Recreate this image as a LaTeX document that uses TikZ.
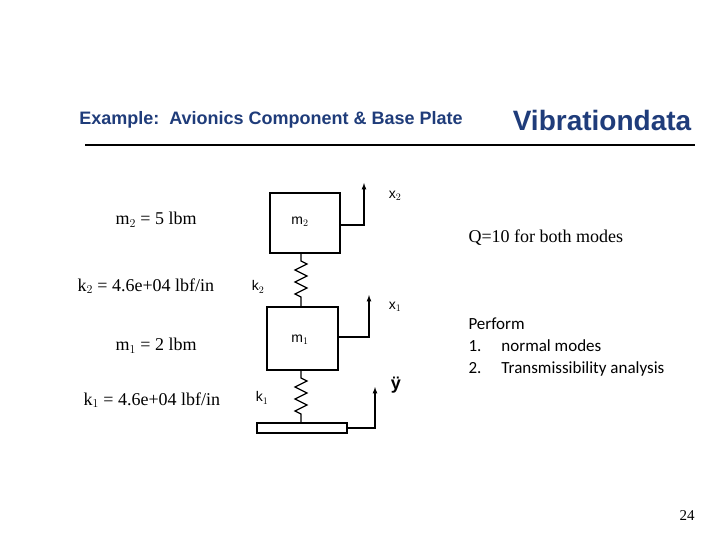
\documentclass[tikz,border=0pt]{standalone}
\usepackage{fontspec}
\setmainfont{Liberation Serif}
\setsansfont{Liberation Sans}
\newfontfamily\carlitofont{Carlito}
\usetikzlibrary{decorations.pathmorphing}
\definecolor{hdr}{HTML}{1F3C7A}
\begin{document}
\begin{tikzpicture}[x=1pt,y=-1pt,
  mass/.style={draw,line width=1.4pt},
  spr/.style={line width=1.2pt,decorate,decoration={zigzag,segment length=12pt,amplitude=6pt,pre length=8pt,post length=6pt}},
  arr/.style={line width=1.2pt,-latex},
  lbl/.style={font=\sffamily\fontsize{14}{16}\selectfont},
  ser/.style={font=\fontsize{18}{21}\selectfont,anchor=west}]
\useasboundingbox (0,0) rectangle (720,540);
\node[font=\sffamily\bfseries\fontsize{18}{21}\selectfont,text=hdr] (ex) at (271,120) {Example:\ \ Avionics Component \& Base Plate};
\node[font=\sffamily\bfseries\fontsize{28}{32}\selectfont,text=hdr] (vd) at (602,120) {Vibrationdata};
\coordinate (la) at (85,145); \coordinate (lb) at (695,145);
\draw[line width=2.5pt] (la) -- (lb);
% masses
\node[mass,minimum width=70pt,minimum height=60pt] (m2) at (305,223) {};
\node[mass,minimum width=71pt,minimum height=63pt] (m1) at (302.5,338.5) {};
\node[draw,line width=1.4pt,minimum width=90pt,minimum height=10pt,inner sep=0] (bp) at (302,428) {};
\node[lbl] at (300,222) {m$_2$};
\node[lbl] at (300,340) {m$_1$};
\draw[spr] (301,253) -- (301,307);
\draw[spr] (301,370) -- (301,423);
\coordinate (a2) at (364,225); \coordinate (t2) at (364,183);
\coordinate (a1) at (369,337); \coordinate (t1) at (369,295);
\coordinate (a0) at (375,428); \coordinate (t0) at (375,387);
\draw[arr] (m2.east |- a2) -- (a2) -- (t2);
\draw[arr] (m1.east |- a1) -- (a1) -- (t1);
\draw[arr] (bp.east |- a0) -- (a0) -- (t0);
\node[lbl] at (395,196) {x$_2$};
\node[lbl] at (395,307) {x$_1$};
\node[font=\sffamily\bfseries\fontsize{18}{20}\selectfont] at (396,385) {ÿ};
\node[lbl] at (258,287) {k$_2$};
\node[lbl] at (262,398) {k$_1$};
\node[ser] at (112,220) {m$_2$ = 5 lbm};
\node[ser] at (74,286) {k$_2$ = 4.6e+04 lbf/in};
\node[ser] at (112,346) {m$_1$ = 2 lbm};
\node[ser] at (80,400) {k$_1$ = 4.6e+04 lbf/in};
\node[ser] at (465,238) {Q=10 for both modes};
\node[font=\carlitofont\fontsize{17}{22}\selectfont,anchor=north west,align=left] at (465,314) {Perform\\1.\hspace{20pt}normal modes\\2.\hspace{20pt}Transmissibility analysis};
\node[font=\fontsize{15}{17}\selectfont] at (687,516) {24};
\end{tikzpicture}
\end{document}
